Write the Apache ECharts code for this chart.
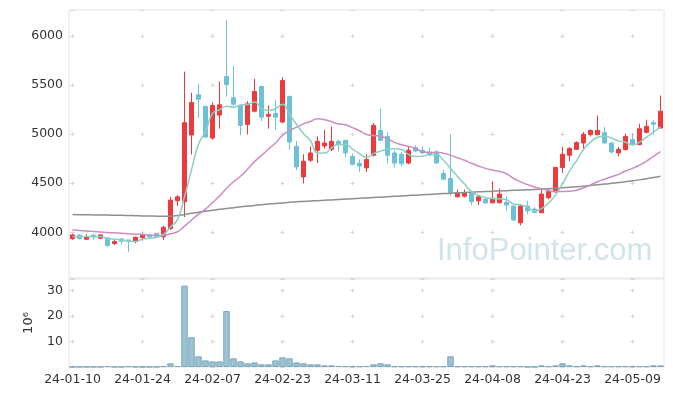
<!DOCTYPE html>
<html><head><meta charset="utf-8">
<script src="https://cdn.jsdelivr.net/npm/echarts@6/dist/echarts.min.js"></script>
<style>html,body{margin:0;padding:0;background:#fff}#c{width:673px;height:396px}</style>
</head><body><div id="c"></div>
<script>
const dates = [
 '2024-01-10','2024-01-11','2024-01-12','2024-01-15','2024-01-16','2024-01-17','2024-01-18','2024-01-19','2024-01-22','2024-01-23',
 '2024-01-24','2024-01-25','2024-01-26','2024-01-29','2024-01-30','2024-01-31','2024-02-01','2024-02-02','2024-02-05','2024-02-06',
 '2024-02-07','2024-02-08','2024-02-13','2024-02-14','2024-02-15','2024-02-16','2024-02-19','2024-02-20','2024-02-21','2024-02-22',
 '2024-02-23','2024-02-26','2024-02-27','2024-02-28','2024-02-29','2024-03-04','2024-03-05','2024-03-06','2024-03-07','2024-03-08',
 '2024-03-11','2024-03-12','2024-03-13','2024-03-14','2024-03-15','2024-03-18','2024-03-19','2024-03-20','2024-03-21','2024-03-22',
 '2024-03-25','2024-03-26','2024-03-27','2024-03-28','2024-03-29','2024-04-01','2024-04-02','2024-04-03','2024-04-04','2024-04-05',
 '2024-04-08','2024-04-09','2024-04-11','2024-04-12','2024-04-15','2024-04-16','2024-04-17','2024-04-18','2024-04-19','2024-04-22',
 '2024-04-23','2024-04-24','2024-04-25','2024-04-26','2024-04-29','2024-04-30','2024-05-02','2024-05-03','2024-05-07','2024-05-08',
 '2024-05-09','2024-05-10','2024-05-13','2024-05-14','2024-05-16'];
const openV = [3935,3970,3929,3970,3939,3942,3884,3932,3922,3905,
 3945,3970,3990,3955,4037,4321,4311,4991,5401,5282,
 4960,5194,5587,5370,5292,5099,5234,5485,5183,5211,
 5123,5383,4876,4564,4734,4835,4879,4845,4927,4937,
 4774,4703,4656,4785,5038,4977,4808,4795,4706,4863,
 4835,4818,4818,4599,4548,4361,4368,4402,4321,4338,
 4300,4300,4305,4267,4097,4267,4236,4199,4351,4412,
 4660,4785,4845,4910,4995,4995,5015,4910,4808,4842,
 4944,4893,5018,5117,5062];
const closeV = [3973,3935,3952,3952,3973,3864,3905,3909,3909,3949,
 3976,3955,3959,4051,4328,4361,5117,5322,5356,4970,
 5292,5299,5505,5305,5089,5309,5434,5173,5201,5173,
 5546,4920,4666,4724,4808,4927,4909,4927,4903,4808,
 4693,4676,4741,5089,4937,4785,4706,4700,4835,4828,
 4808,4788,4706,4541,4406,4402,4402,4311,4361,4300,
 4345,4389,4277,4125,4267,4219,4203,4389,4419,4660,
 4795,4853,4913,4998,5038,5038,4910,4818,4845,4977,
 4893,5055,5079,5102,5234];
const lowV = [3922,3927,3922,3922,3932,3854,3871,3878,3800,3888,
 3915,3939,3952,3922,4023,4267,4155,4792,5167,4967,
 4944,5056,5383,5290,4988,4998,5221,5133,5056,5045,
 5112,4842,4632,4497,4717,4706,4853,4828,4822,4761,
 4683,4615,4615,4774,4927,4700,4660,4673,4693,4818,
 4802,4774,4700,4531,4368,4355,4355,4277,4277,4292,
 4294,4294,4219,4113,4071,4186,4193,4196,4335,4402,
 4605,4724,4842,4842,4977,4988,4906,4802,4774,4835,
 4886,4886,5008,4995,5062];
const highV = [3983,3980,3980,3980,3978,3947,3932,3937,3922,3955,
 3990,3980,3993,4064,4361,4379,5637,5421,5512,5292,
 5326,5536,6162,5695,5300,5336,5563,5495,5292,5350,
 5579,5393,4930,4795,4876,4977,5045,5079,4944,4944,
 4802,4744,4795,5112,5259,5021,4835,4818,4869,4886,
 4876,4863,4835,4639,4998,4436,4436,4422,4379,4340,
 4521,4447,4368,4275,4287,4321,4254,4447,4440,4666,
 4869,4869,4927,5021,5048,5190,5072,4915,4869,5005,
 5005,5106,5147,5147,5394];
const ma5 = [3958,3955,3957,3955,3957,3935,3929,3921,3912,3907,
 3930,3940,3950,3978,4054,4131,4363,4636,4897,5025,
 5211,5248,5284,5274,5298,5301,5328,5262,5241,5258,
 5305,5203,5101,5006,4933,4809,4807,4859,4895,4895,
 4848,4801,4764,4801,4827,4846,4852,4843,4793,4771,
 4775,4792,4793,4734,4650,4569,4491,4412,4376,4355,
 4344,4341,4334,4287,4281,4255,4218,4241,4299,4378,
 4493,4623,4728,4844,4919,4968,4979,4960,4930,4918,
 4889,4918,4970,5021,5073];
const ma20 = [4025,4019,4013,4008,4003,3998,3994,3990,3986,3981,
 3977,3972,3968,3970,3985,4005,4062,4125,4185,4236,
 4302,4370,4448,4515,4571,4643,4720,4783,4848,4909,
 4987,5036,5071,5105,5129,5157,5146,5127,5104,5096,
 5066,5035,4997,4986,4978,4952,4916,4892,4874,4856,
 4820,4813,4815,4806,4786,4759,4734,4703,4676,4651,
 4633,4619,4596,4548,4514,4486,4461,4445,4424,4416,
 4415,4419,4429,4452,4483,4515,4541,4566,4590,4624,
 4651,4685,4725,4774,4822];
const ma120 = [4180,4179,4178,4177,4176,4175,4174,4173,4171,4169,
 4167,4166,4164,4163,4164,4170,4181,4193,4204,4215,
 4225,4234,4243,4251,4259,4267,4274,4281,4287,4293,
 4299,4305,4310,4314,4318,4322,4326,4330,4334,4338,
 4342,4346,4350,4354,4358,4362,4366,4370,4374,4378,
 4382,4386,4390,4394,4398,4402,4406,4409,4412,4415,
 4418,4421,4424,4427,4430,4433,4436,4440,4444,4448,
 4453,4458,4464,4470,4477,4484,4491,4499,4507,4515,
 4524,4534,4545,4557,4570];
const volume = [0.08,0.07,0.06,0.05,0.07,0.35,0.08,0.06,0.3,0.07,
 0.08,0.06,0.1,0.35,1.45,0.4,32.0,11.7,4.2,2.6,
 2.2,2.2,22.0,3.4,2.2,1.45,1.8,1.05,1.05,2.6,
 3.8,3.4,1.8,1.45,1.05,1.05,0.65,0.65,0.4,0.35,
 0.3,0.3,0.4,1.05,1.45,1.05,0.3,0.3,0.3,0.3,
 0.3,0.3,0.3,0.3,4.2,0.3,0.3,0.3,0.3,0.3,
 0.65,0.3,0.3,0.3,0.3,0.05,0.05,0.65,0.3,0.65,
 1.45,0.65,0.3,0.65,0.3,0.65,0.3,0.3,0.3,0.3,
 0.3,0.3,0.3,0.65,0.65];
const yTicksPrice = [4000,4500,5000,5500,6000];
const yTicksVol = [10,20,30];

const FONT = 'DejaVu Sans';
const candles = dates.map((d,i)=>[openV[i], closeV[i], lowV[i], highV[i]]);
const chart = echarts.init(document.getElementById('c'), null, {renderer:'canvas'});
const crossColor = '#d6d6d6';
const option = {
  animation: false,
  backgroundColor: '#ffffff',
  graphic: [{
    type: 'text', left: 437, top: 236, z: 0, silent: true,
    style: { text: 'InfoPointer.com', font: '31px "Liberation Sans"', fill: '#d3e3ec' }
  }],
  grid: [
    {left:69, right:9, top:10, height:268, show:true, borderColor:'#e4e4e4', borderWidth:1},
    {left:69, right:9, top:279, height:88, show:true, borderColor:'#e4e4e4', borderWidth:1}
  ],
  xAxis: [
    {type:'category', data:dates, gridIndex:0, boundaryGap:true,
     axisLine:{show:false}, axisTick:{show:false}, axisLabel:{show:false},
     splitLine:{show:true, interval:9, alignWithLabel:true,
       lineStyle:{color:crossColor, width:1, type:[4,45.066], dashOffset:25.066}}},
    {type:'category', data:dates, gridIndex:1, boundaryGap:true,
     axisLine:{show:false}, axisTick:{show:false},
     axisLabel:{interval:9, formatter:v=>v.slice(2), color:'#333', fontFamily:FONT, fontSize:12.5, margin:6},
     splitLine:{show:true, interval:9, alignWithLabel:true,
       lineStyle:{color:crossColor, width:1, type:[4,21.434], dashOffset:15.734}}}
  ],
  yAxis: [
    {type:'value', gridIndex:0, min:3534, max:6265, splitNumber:5,
     axisLine:{show:false}, axisTick:{show:false},
     axisLabel:{color:'#333', fontFamily:FONT, fontSize:12.5, margin:6,
       formatter:v=> yTicksPrice.indexOf(v)>=0 ? String(v) : ''},
     splitLine:{show:true, lineStyle:{color:crossColor, width:1, type:[4,66], dashOffset:68.5}}},
    {type:'value', gridIndex:1, min:0, max:34.6, interval:10,
     name:'10\u2076', nameLocation:'middle', nameRotate:90, nameGap:34,
     nameTextStyle:{color:'#333', fontFamily:FONT, fontSize:13},
     axisLine:{show:false}, axisTick:{show:false},
     axisLabel:{color:'#333', fontFamily:FONT, fontSize:12.5, margin:6,
       formatter:v=> yTicksVol.indexOf(v)>=0 ? String(v) : ''},
     splitLine:{show:true, lineStyle:{color:crossColor, width:1, type:[4,66], dashOffset:68.5}}}
  ],
  series: [
    {type:'candlestick', xAxisIndex:0, yAxisIndex:0, data:candles, barWidth:'72%',
     itemStyle:{color:'#ec3b3c', color0:'#6cc1d7', borderColor:'#ec3b3c', borderColor0:'#6cc1d7', borderWidth:1}},
    {type:'line', xAxisIndex:0, yAxisIndex:0, data:ma120, smooth:true, showSymbol:false,
     lineStyle:{color:'#8f8f8f', width:1.5}},
    {type:'line', xAxisIndex:0, yAxisIndex:0, data:ma20, smooth:true, showSymbol:false,
     lineStyle:{color:'#cc8dc4', width:1.5}},
    {type:'line', xAxisIndex:0, yAxisIndex:0, data:ma5, smooth:true, showSymbol:false,
     lineStyle:{color:'#8ccfc3', width:1.5}},
    {type:'bar', xAxisIndex:1, yAxisIndex:1, data:volume, barWidth:'92%',
     itemStyle:{color:'#9cc2d3', borderColor:'#7aa7bc', borderWidth:1}}
  ]
};
chart.setOption(option);
</script>
</body></html>
